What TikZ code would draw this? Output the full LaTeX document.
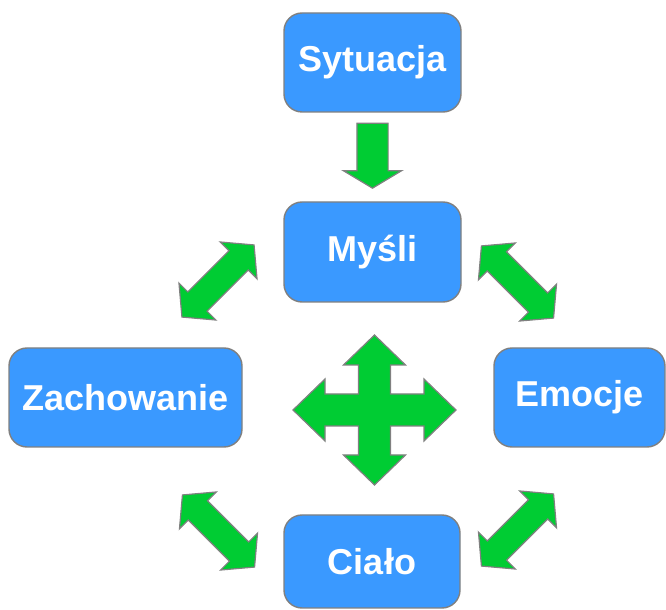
\documentclass[tikz,border=0pt]{standalone}
\usepackage{fontspec}
\setmainfont{Liberation Sans}
\usetikzlibrary{shapes.arrows}

\definecolor{boxblue}{RGB}{58,153,255}
\definecolor{arrowgreen}{RGB}{0,204,51}

\begin{document}
\begin{tikzpicture}[x=0.5pt, y=-0.5pt,
    box/.style={draw=gray, line width=0.7pt, fill=boxblue, rounded corners=9pt,
        text=white, font=\fontsize{18}{20}\selectfont\bfseries, inner sep=0pt},
    garrow/.style={draw=gray, fill=arrowgreen, line width=0.6pt},
    dblarrow/.style={garrow, double arrow, inner xsep=0pt, inner ysep=6.5pt, minimum height=51pt,
        double arrow head extend=6.25pt, double arrow tip angle=100}]
    \useasboundingbox (0,0) rectangle (666,610);

    \node[box, minimum width=88.5pt, minimum height=49.5pt] (sytuacja) at (372.5,62.5) {Sytuacja};
    \node[box, minimum width=88.5pt, minimum height=50pt] (mysli) at (372.5,252) {Myśli};
    \node[box, minimum width=116.5pt, minimum height=49.5pt] (zachowanie) at (125.5,397.5) {Zachowanie};
    \node[box, minimum width=85.5pt, minimum height=49.5pt] (emocje) at (579.5,397.5) {Emocje};
    \node[box, minimum width=88pt, minimum height=46.5pt] (cialo) at (372,561.5) {Ciało};

    \node[garrow, single arrow, inner xsep=0pt, inner ysep=7.5pt, rotate=-90, minimum height=32.5pt,
        single arrow head extend=6.75pt, single arrow tip angle=118]
        (sm) at (372.5,151) {};

    \node[dblarrow, rotate=45] (mz) at (218,281) {};
    \node[dblarrow, rotate=-45] (me) at (517.5,282) {};
    \node[dblarrow, rotate=-45] (zc) at (218.5,531) {};
    \node[dblarrow, rotate=45] (ec) at (517.5,530) {};

    % four-way arrow in the middle
    \begin{scope}[shift={(374.5,410)}]
        \draw[garrow] (-81.5,0) -- (-49.5,-31) -- (-49.5,-16) -- (-16,-16) -- (-16,-45)
            -- (-31,-45) -- (0,-75) -- (31,-45) -- (16,-45) -- (16,-16) -- (49.5,-16)
            -- (49.5,-31) -- (81.5,0) -- (49.5,31) -- (49.5,16) -- (16,16) -- (16,45)
            -- (31,45) -- (0,75) -- (-31,45) -- (-16,45) -- (-16,16) -- (-49.5,16)
            -- (-49.5,31) -- cycle;
    \end{scope}
\end{tikzpicture}
\end{document}
